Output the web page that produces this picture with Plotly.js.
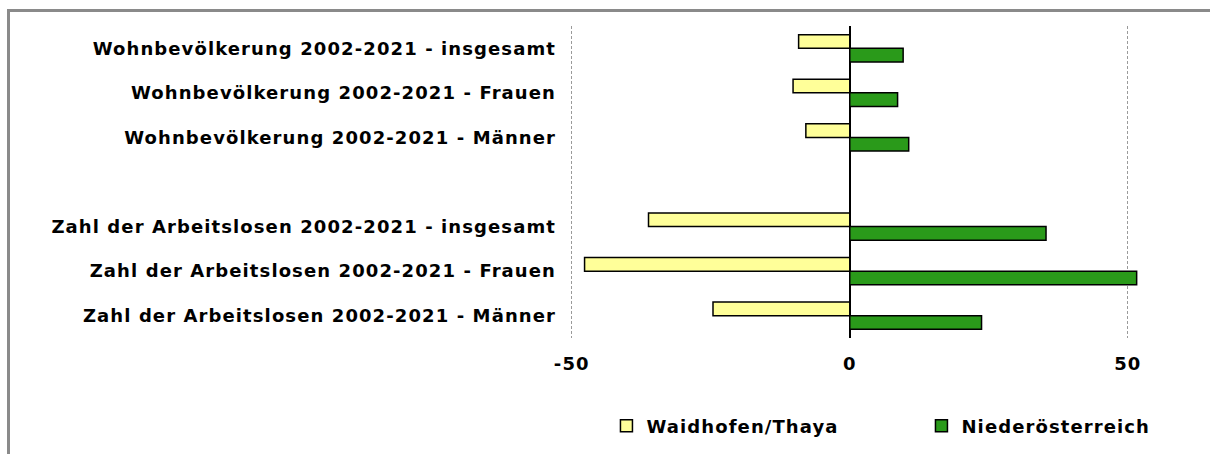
<!DOCTYPE html>
<html>
<head>
<meta charset="utf-8">
<script src="https://cdn.plot.ly/plotly-3.0.1.min.js"></script>
<style>
  html, body { margin: 0; padding: 0; background: #ffffff; width: 1210px; height: 454px; overflow: hidden; }
  #frame { position: absolute; left: 7px; top: 9px; width: 1400px; height: 600px; border: 3px solid #8a8a8a; box-sizing: border-box; }
  #chart { position: absolute; left: 0; top: 0; width: 1210px; height: 454px; }
  #chart text { letter-spacing: 1.1px; }
</style>
</head>
<body>
<div id="frame"></div>
<div id="chart"></div>
<script>
// Categories top to bottom (the blank one is the empty spacer slot)
const categories = [
  "Wohnbevölkerung 2002-2021 - insgesamt",
  "Wohnbevölkerung 2002-2021 - Frauen",
  "Wohnbevölkerung 2002-2021 - Männer",
  " ",
  "Zahl der Arbeitslosen 2002-2021 - insgesamt",
  "Zahl der Arbeitslosen 2002-2021 - Frauen",
  "Zahl der Arbeitslosen 2002-2021 - Männer"
];
const waidhofen = [-9.2, -10.2, -7.9, null, -36.2, -47.7, -24.6];
const niederoesterreich = [9.6, 8.6, 10.6, null, 35.3, 51.6, 23.7];
const seriesNames = ["Waidhofen/Thaya", "Niederösterreich"];
const xTicks = [-50, 0, 50];
const xTickText = ["-50", "0", "50"];

const FONT = "'DejaVu Sans', Verdana, sans-serif";
const labelFont = { family: FONT, size: 18, color: "#000000", weight: "bold" };

const traces = [
  {
    type: "bar", orientation: "h", name: seriesNames[0],
    y: categories, x: waidhofen,
    marker: { color: "#ffff99", line: { color: "#000000", width: 1.5 } },
    hoverinfo: "x+y"
  },
  {
    type: "bar", orientation: "h", name: seriesNames[1],
    y: categories, x: niederoesterreich,
    marker: { color: "#2a9a1a", line: { color: "#000000", width: 1.5 } },
    hoverinfo: "x+y"
  }
];

// boundaries between categories for the small tick marks on the zero axis
const boundaries = [];
for (let i = 0; i <= categories.length; i++) boundaries.push(i - 0.5);

const xmin = -50.5, xmax = 54;
const layout = {
  width: 1210, height: 454,
  margin: { l: 569, r: 60, t: 26, b: 116, autoexpand: false },
  paper_bgcolor: "rgba(0,0,0,0)",
  plot_bgcolor: "rgba(0,0,0,0)",
  barmode: "group",
  bargap: 0.39,
  bargroupgap: 0,
  showlegend: true,
  font: labelFont,
  xaxis: {
    range: [xmin, xmax],
    tickvals: xTicks, ticktext: xTickText,
    showgrid: true, gridcolor: "#9a9a9a", gridwidth: 1, griddash: "3px,2px",
    zeroline: true, zerolinecolor: "#000000", zerolinewidth: 1.5,
    showline: false, ticks: "", ticklabelstandoff: 13,
    tickfont: labelFont,
    fixedrange: true
  },
  yaxis: {
    type: "category",
    categoryorder: "array", categoryarray: categories,
    autorange: "reversed",
    showgrid: false, zeroline: false, showline: false, ticks: "",
    ticklabelstandoff: 12,
    tickfont: labelFont,
    fixedrange: true
  },
  yaxis2: {
    overlaying: "y",
    anchor: "free",
    position: (0 - xmin) / (xmax - xmin),
    range: [categories.length - 0.5, -0.5],
    tickvals: boundaries,
    showticklabels: false,
    ticks: "outside", ticklen: 5, tickwidth: 1.5, tickcolor: "#000000",
    showline: true, linecolor: "#000000", linewidth: 1.5,
    showgrid: false, zeroline: false,
    fixedrange: true
  },
  legend: {
    orientation: "h",
    x: 1.1488, xanchor: "right",
    y: -0.282, yanchor: "middle",
    entrywidth: 270,
    font: labelFont,
    bgcolor: "rgba(0,0,0,0)"
  }
};

Plotly.newPlot("chart", traces, layout, { displayModeBar: false, staticPlot: true });
</script>
</body>
</html>
